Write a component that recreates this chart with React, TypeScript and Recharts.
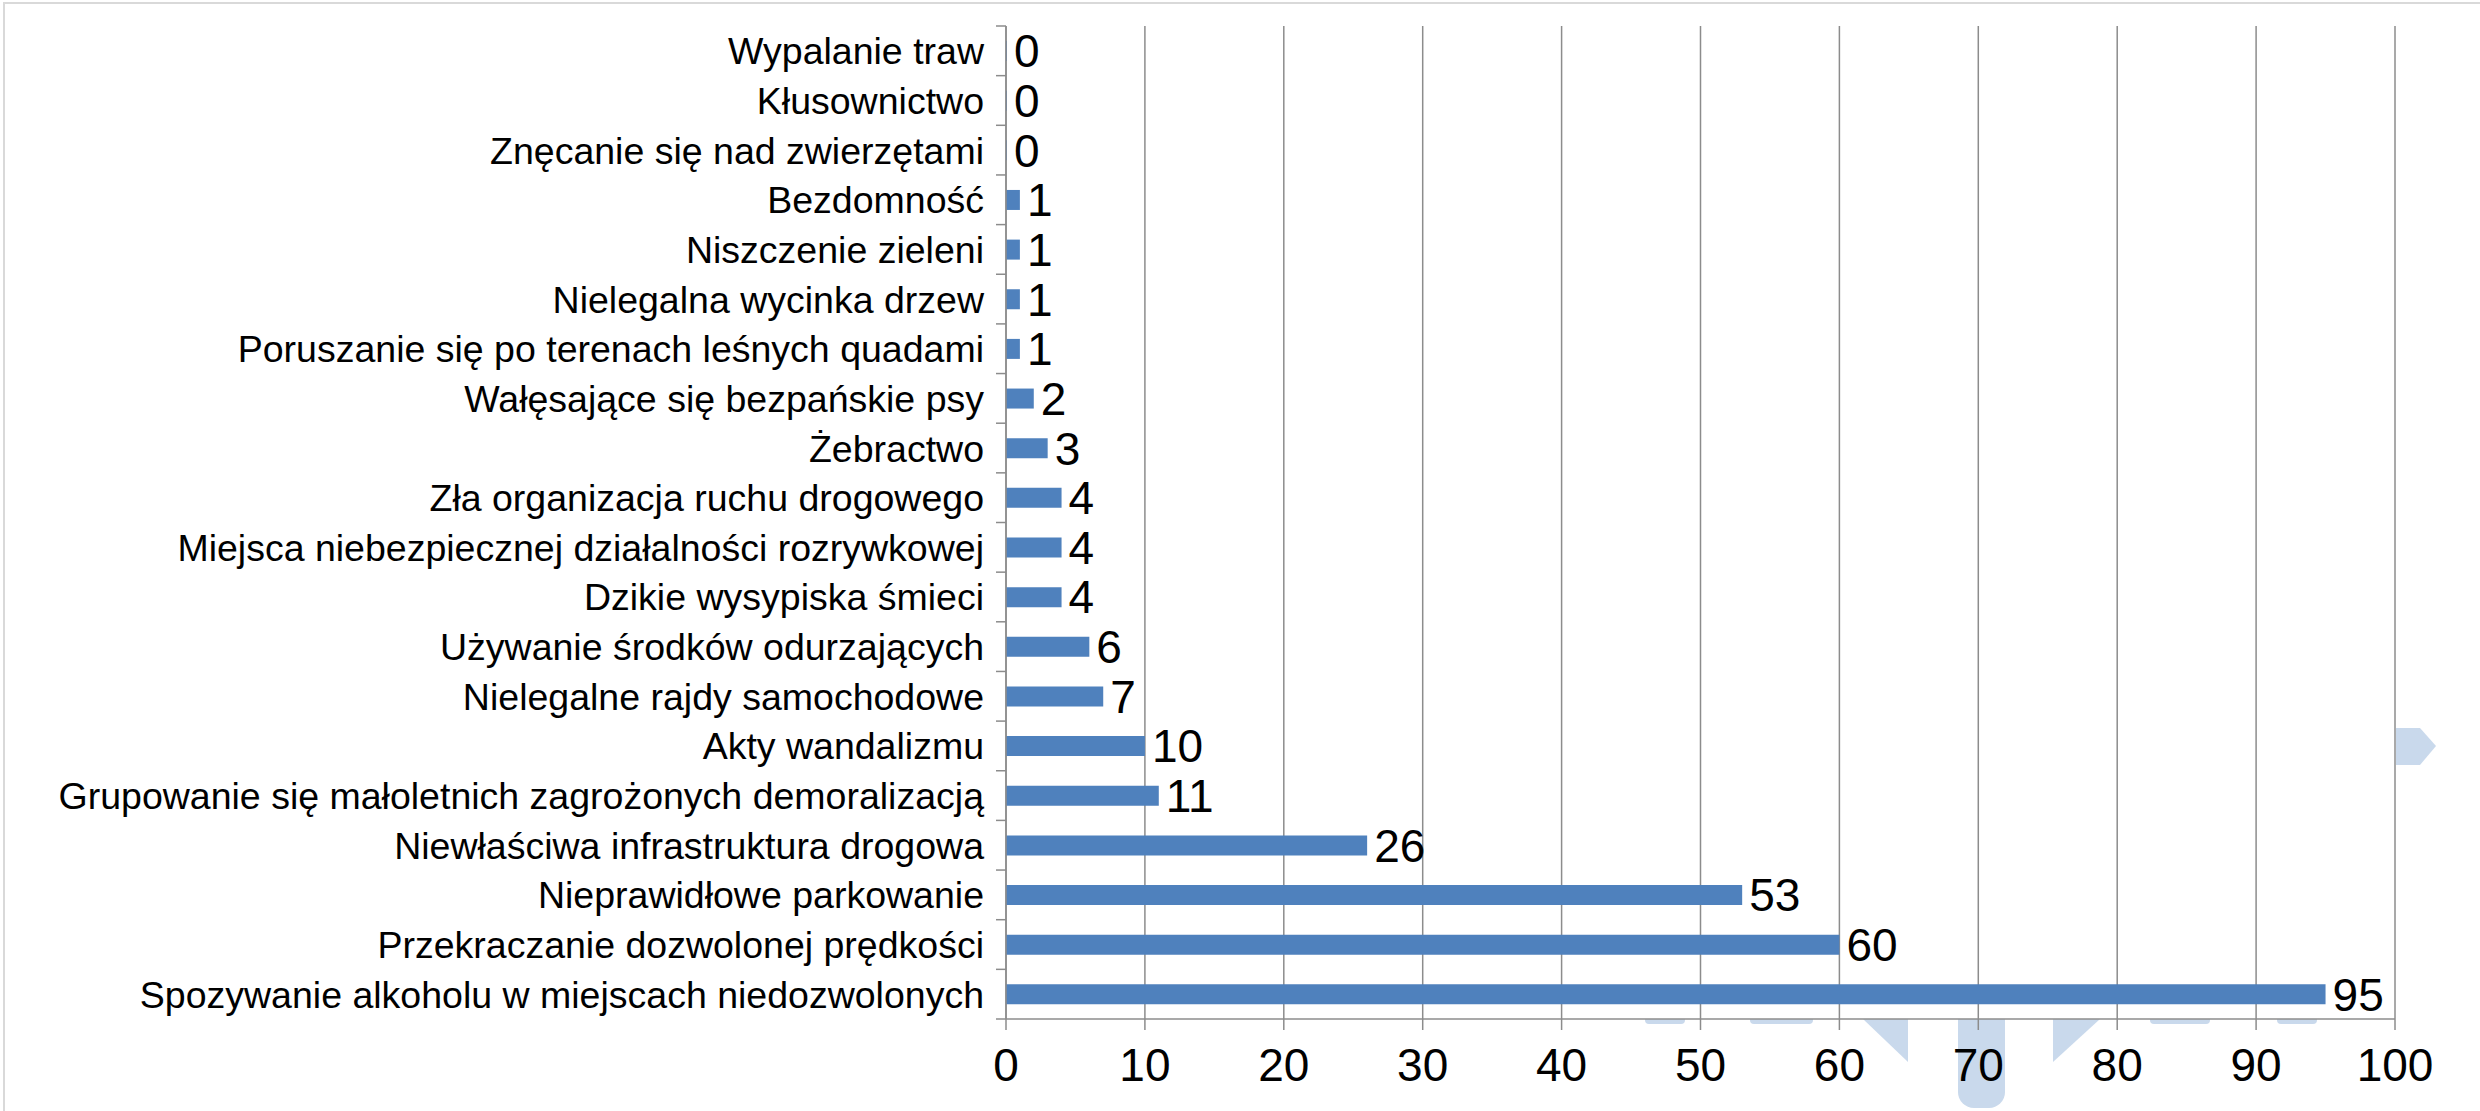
import { BarChart, Bar, XAxis, YAxis, CartesianGrid, LabelList } from "recharts";

// top-to-bottom order, as in the picture
const categories = [
  "Wypalanie traw",
  "Kłusownictwo",
  "Znęcanie się nad zwierzętami",
  "Bezdomność",
  "Niszczenie zieleni",
  "Nielegalna wycinka drzew",
  "Poruszanie się po terenach leśnych quadami",
  "Wałęsające się bezpańskie psy",
  "Żebractwo",
  "Zła organizacja ruchu drogowego",
  "Miejsca niebezpiecznej działalności rozrywkowej",
  "Dzikie wysypiska śmieci",
  "Używanie środków odurzających",
  "Nielegalne rajdy samochodowe",
  "Akty wandalizmu",
  "Grupowanie się małoletnich zagrożonych demoralizacją",
  "Niewłaściwa infrastruktura drogowa",
  "Nieprawidłowe parkowanie",
  "Przekraczanie dozwolonej prędkości",
  "Spozywanie alkoholu w miejscach niedozwolonych",
];
const counts = [0, 0, 0, 1, 1, 1, 1, 2, 3, 4, 4, 4, 6, 7, 10, 11, 26, 53, 60, 95];
const xTicks = [0, 10, 20, 30, 40, 50, 60, 70, 80, 90, 100];

const data = categories.map((name, i) => ({ name, value: counts[i] }));

const W = 2480;
const H = 1111;
const TOP = 26;
const BOTTOM_AXIS = 92;
const FONT = '"Liberation Sans", Arial, sans-serif';
const GRID = "#8c8c8c";
const BAND = (H - TOP - BOTTOM_AXIS) / categories.length;

const CategoryTick = (props: any) => {
  const { x, y, payload, index } = props;
  return (
    <g>
      <line x1={x + 12} x2={x + 22} y1={y - BAND / 2} y2={y - BAND / 2} stroke={GRID} strokeWidth={1.5} />
      {index === categories.length - 1 && (
        <line x1={x + 12} x2={x + 22} y1={y + BAND / 2} y2={y + BAND / 2} stroke={GRID} strokeWidth={1.5} />
      )}
      <text x={x} y={y} dy="0.36em" textAnchor="end" fontSize={37.5} fill="#000" fontFamily={FONT}>
        {payload.value}
      </text>
    </g>
  );
};

// faint logo peeking out from behind the chart
const Watermark = () => (
  <svg width={W} height={H} style={{ position: "absolute", left: 0, top: 0 }}>
    <g fill="#c9d9ec">
      <rect x={1958} y={1000} width={47} height={108} rx={16} />
      <polygon points="1863,1019 1908,1019 1908,1062" />
      <polygon points="2053,1019 2100,1019 2053,1062" />
      <rect x={1645} y={1015} width={40} height={9} rx={4} />
      <rect x={1750} y={1015} width={63} height={9} rx={4} />
      <rect x={2150} y={1015} width={60} height={9} rx={4} />
      <rect x={2277} y={1015} width={40} height={9} rx={4} />
      <polygon points="2396,728 2420,728 2436,746 2420,765 2396,765" />
    </g>
  </svg>
);

export default function App() {
  return (
    <div style={{ position: "absolute", left: 0, top: 0, width: W, height: H, background: "#fff" }}>
      <Watermark />
      <div style={{ position: "absolute", left: 0, top: 0 }}>
        <BarChart
          width={W}
          height={H}
          data={data}
          layout="vertical"
          barSize={20}
          margin={{ top: TOP, right: 85, bottom: 0, left: 0 }}
        >
          <rect x={4} y={3} width={W + 100} height={H + 100} fill="none" stroke="#d9d9d9" strokeWidth={2} />
          <CartesianGrid horizontal={false} stroke={GRID} strokeWidth={1.5} fill="#fff" fillOpacity={1} />
          <XAxis
            type="number"
            domain={[0, 100]}
            ticks={xTicks}
            interval={0}
            height={BOTTOM_AXIS}
            stroke={GRID}
            strokeWidth={1.5}
            tickSize={11}
            tickMargin={18}
            tick={{ fontSize: 46, fill: "#000", fontFamily: FONT }}
          />
          <YAxis
            type="category"
            dataKey="name"
            width={1006}
            interval={0}
            stroke={GRID}
            strokeWidth={1.5}
            tickLine={false}
            tickSize={10}
            tickMargin={12}
            tick={<CategoryTick />}
          />
          <Bar dataKey="value" fill="#4f81bd" minPointSize={1} isAnimationActive={false}>
            <LabelList
              dataKey="value"
              position="right"
              offset={7}
              fontSize={46}
              fill="#000"
              fontFamily={FONT}
            />
          </Bar>
        </BarChart>
      </div>
    </div>
  );
}
